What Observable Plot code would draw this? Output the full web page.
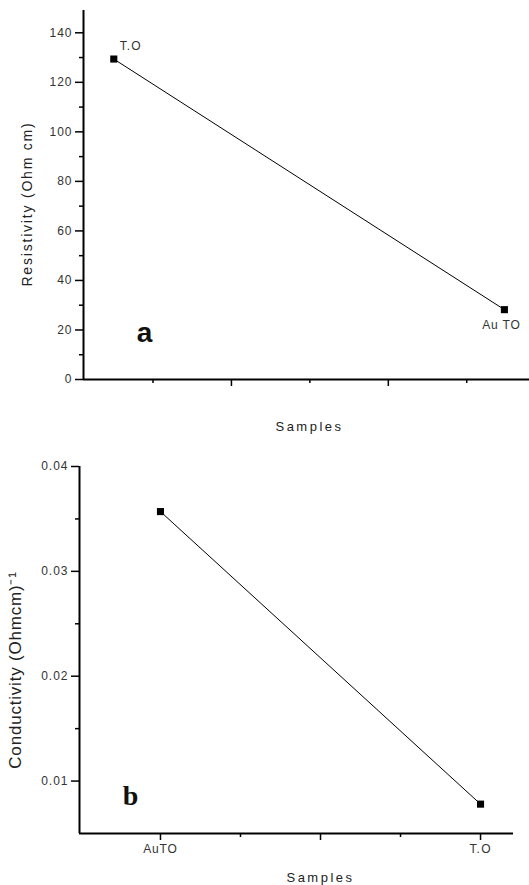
<!DOCTYPE html>
<html><head><meta charset="utf-8">
<script src="https://cdn.jsdelivr.net/npm/d3@7"></script>
<script src="https://cdn.jsdelivr.net/npm/@observablehq/plot@0.6"></script>
<style>
body{margin:0;background:#fff;}
#chart{width:529px;}
svg{display:block;}
</style></head><body><div id="chart"></div>
<script>
// Panel a: resistivity
const samplesA = ["T.O", "AuTO"];
const pointLabelsA = ["T.O", "Au TO"];
const sampleIndexA = [0.25, 2.74];
const resistivity = [129.4, 28.2];
const resMajorTicks = [0, 20, 40, 60, 80, 100, 120, 140];
const resMinorTicks = [10, 30, 50, 70, 90, 110, 130];
const xMajorTicksA = [1, 2];
const xMinorTicksA = [0.5, 1.5, 2.5];

// Panel b: conductivity
const samplesB = ["AuTO", "T.O"];
const sampleIndexB = [1, 2];
const conductivity = [0.0357, 0.0078];
const condMajorTicks = [0.01, 0.02, 0.03, 0.04];
const condMinorTicks = [0.015, 0.025, 0.035];
const xMajorTicksB = [1, 1.5, 2];
const xMinorTicksB = [1.25, 1.75];

const sans = "'Liberation Sans', Arial, sans-serif";
const serif = "'Liberation Serif', 'Times New Roman', serif";
const blank = () => "";

const dataA = samplesA.map((s, i) => ({sample: s, label: pointLabelsA[i], x: sampleIndexA[i], y: resistivity[i]}));
const dataB = samplesB.map((s, i) => ({sample: s, x: sampleIndexB[i], y: conductivity[i]}));

const plotA = Plot.plot({
  width: 529, height: 440,
  marginLeft: 83, marginRight: 0, marginTop: 10, marginBottom: 61,
  style: {fontFamily: sans, fontSize: "12px", background: "#fff", color: "#000"},
  x: {domain: [0.057, 2.9]},
  y: {domain: [0, 149]},
  marks: [
    Plot.axisY(resMajorTicks, {tickSize: 8, tickPadding: 3, tickFormat: d => String(d), label: null, strokeWidth: 1.5, fill: "#333"}),
    Plot.axisY(resMinorTicks, {tickSize: 4, tickFormat: blank, label: null, strokeWidth: 1.5}),
    Plot.axisX(xMajorTicksA, {tickSize: 7, tickFormat: blank, label: null, strokeWidth: 1.5}),
    Plot.axisX(xMinorTicksA, {tickSize: 4, tickFormat: blank, label: null, strokeWidth: 1.5}),
    Plot.ruleX([0.057], {stroke: "#000", strokeWidth: 2}),
    Plot.ruleY([0], {stroke: "#000", strokeWidth: 2}),
    Plot.line(dataA, {x: "x", y: "y", stroke: "#000", strokeWidth: 1}),
    Plot.dot(dataA, {x: "x", y: "y", symbol: "square", r: 4, fill: "#000", stroke: "none"}),
    Plot.text([dataA[0]], {x: "x", y: "y", text: "label", dx: 17, dy: -13, fontSize: 12, fill: "#333"}),
    Plot.text([dataA[1]], {x: "x", y: "y", text: "label", dx: -3, dy: 15, fontSize: 12, fill: "#333"}),
    Plot.text(["a"], {frameAnchor: "bottom-left", dx: 61, dy: -46, textAnchor: "middle", lineAnchor: "middle", fontSize: 28, fontWeight: "bold", fontFamily: sans, fill: "#111"}),
    Plot.text(["Samples"], {frameAnchor: "bottom", dx: 3, dy: 47, textAnchor: "middle", lineAnchor: "middle", fontSize: 13, fill: "#222"}),
    Plot.text(["Resistivity (Ohm cm)"], {frameAnchor: "left", rotate: -90, dx: -56, dy: 9, textAnchor: "middle", lineAnchor: "middle", fontSize: 14, fill: "#222"})
  ]
});

const plotB = Plot.plot({
  width: 529, height: 445,
  marginLeft: 79, marginRight: 16, marginTop: 26, marginBottom: 52,
  style: {fontFamily: sans, fontSize: "12px", background: "#fff", color: "#000"},
  x: {domain: [0.747, 2.103]},
  y: {domain: [0.005, 0.04]},
  marks: [
    Plot.axisY(condMajorTicks, {tickSize: 8, tickPadding: 3, tickFormat: d3.format(".2f"), label: null, strokeWidth: 1.5, fill: "#333"}),
    Plot.axisY(condMinorTicks, {tickSize: 4, tickFormat: blank, label: null, strokeWidth: 1.5}),
    Plot.axisX(xMajorTicksB, {tickSize: 7, tickPadding: 4, label: null, strokeWidth: 1.5, fill: "#333",
      tickFormat: d => { const i = sampleIndexB.indexOf(d); return i >= 0 ? samplesB[i] : ""; }}),
    Plot.axisX(xMinorTicksB, {tickSize: 4, tickFormat: blank, label: null, strokeWidth: 1.5}),
    Plot.ruleX([0.747], {stroke: "#000", strokeWidth: 2}),
    Plot.ruleY([0.005], {stroke: "#000", strokeWidth: 2}),
    Plot.line(dataB, {x: "x", y: "y", stroke: "#000", strokeWidth: 1}),
    Plot.dot(dataB, {x: "x", y: "y", symbol: "square", r: 4, fill: "#000", stroke: "none"}),
    Plot.text(["b"], {frameAnchor: "bottom-left", dx: 51, dy: -37, textAnchor: "middle", lineAnchor: "middle", fontSize: 28, fontWeight: "bold", fontFamily: serif, fill: "#111"}),
    Plot.text(["Samples"], {frameAnchor: "bottom", dx: 24, dy: 44, textAnchor: "middle", lineAnchor: "middle", fontSize: 13, fill: "#222"}),
    Plot.text(["Conductivity (Ohmcm)⁻¹"], {frameAnchor: "left", rotate: -90, dx: -64, dy: 20, textAnchor: "middle", lineAnchor: "middle", fontSize: 17, fill: "#222"})
  ]
});

// letter spacing tweaks (the reference text is set wide)
const spacing = {"Samples": "2.5px", "Resistivity (Ohm cm)": "1.8px", "Conductivity (Ohmcm)⁻¹": "0.8px", "T.O": "1.2px", "Au TO": "0.8px", "AuTO": "0.8px"};
for (const svg of [plotA, plotB]) {
  svg.querySelectorAll("text").forEach(t => {
    const s = spacing[t.textContent];
    if (s) t.setAttribute("letter-spacing", s);
  });
  svg.querySelectorAll('[aria-label="y-axis tick label"] text').forEach(t => t.setAttribute("letter-spacing", "1px"));
}

const chart = document.getElementById("chart");
chart.appendChild(plotA);
chart.appendChild(plotB);
</script>
</body></html>
